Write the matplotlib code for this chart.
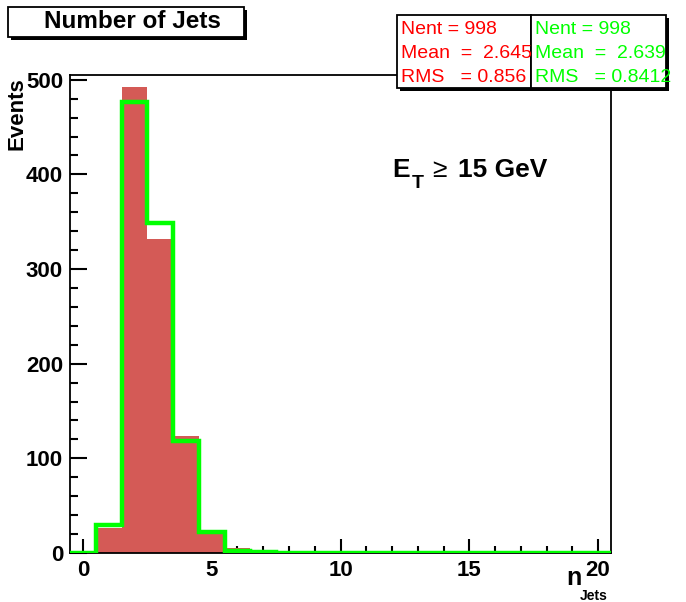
import numpy as np
import matplotlib.pyplot as plt
from matplotlib.patches import Rectangle
from matplotlib.ticker import MultipleLocator

plt.rcParams['font.family'] = ['Liberation Sans', 'DejaVu Sans']

# bin edges for nJets, 21 bins of width 1
edges = np.arange(-0.5, 21.0, 1.0)
red_counts = [0, 26, 492, 332, 124, 20, 5, 1] + [0] * 13
green_counts = [0, 30, 476, 349, 118, 22, 2, 1] + [0] * 13

red_stats = ['Nent = 998', 'Mean  =  2.645', 'RMS   = 0.856']
green_stats = ['Nent = 998', 'Mean  =  2.639', 'RMS   = 0.8412']

fig = plt.figure(figsize=(6.86, 6.02), dpi=100)
W, H = 686, 602
ax = fig.add_axes([70 / W, 1 - 553 / H, (611 - 70) / W, (553 - 75) / H])

ax.stairs(red_counts, edges, fill=True, color='#d45a56', zorder=2)
ax.stairs(green_counts, edges, color='#00ff00', linewidth=3.2, zorder=3)

ax.set_xlim(-0.5, 20.5)
ax.set_ylim(0, 505)
ax.xaxis.set_major_locator(MultipleLocator(5))
ax.xaxis.set_minor_locator(MultipleLocator(1))
ax.yaxis.set_major_locator(MultipleLocator(100))
ax.yaxis.set_minor_locator(MultipleLocator(20))
ax.tick_params(which='both', direction='in', top=False, right=False, width=1.5, color='black')
ax.tick_params(which='major', axis='x', length=10)
ax.tick_params(which='minor', axis='x', length=5)
ax.tick_params(which='major', axis='y', length=12)
ax.tick_params(which='minor', axis='y', length=6)
ax.tick_params(axis='both', labelsize=16, pad=5)
for lbl in ax.get_xticklabels() + ax.get_yticklabels():
    lbl.set_fontweight('bold')
for s in ax.spines.values():
    s.set_linewidth(1.3)

def px(x, y):
    return x / W, 1 - y / H

fig.text(*px(17, 114), 'Events', rotation=90, ha='center', va='center',
         fontsize=16, fontweight='bold')
fig.text(*px(566, 585), 'n', ha='left', va='baseline', fontsize=18, fontweight='bold')
fig.text(*px(580, 600), 'Jets', ha='left', va='baseline', fontsize=10, fontweight='bold')

# E_T >= 15 GeV label
fig.text(*px(392, 177), 'E', ha='left', va='baseline', fontsize=19, fontweight='bold')
fig.text(*px(412, 188), 'T', ha='left', va='baseline', fontsize=14, fontweight='bold')
fig.text(*px(432, 177), '\u2265', ha='left', va='baseline', fontsize=19)
fig.text(*px(458, 177), '15 GeV', ha='left', va='baseline', fontsize=19, fontweight='bold')

def box(x0, y0, x1, y1, sh=4):
    # ROOT-style pave with shadow, coords in pixels from top-left
    fig.patches.append(Rectangle(px(x0 + sh, y1 + sh), (x1 - x0) / W, (y1 - y0) / H,
                                 transform=fig.transFigure, facecolor='black',
                                 edgecolor='none', zorder=5))
    fig.patches.append(Rectangle(px(x0, y1), (x1 - x0) / W, (y1 - y0) / H,
                                 transform=fig.transFigure, facecolor='white',
                                 edgecolor='black', linewidth=1.3, zorder=6))

box(8, 7, 244, 37, sh=3)
fig.text(*px(132, 22), 'Number of Jets', ha='center', va='center',
         fontsize=17.5, fontweight='bold', zorder=10)

box(397, 15, 531, 88, sh=3)
box(531, 15, 666, 88, sh=3)
for i, (r, g) in enumerate(zip(red_stats, green_stats)):
    y = 1 - (29 + i * 24) / H
    fig.text(401 / W, y, r, color='red', fontsize=14, ha='left', va='center', zorder=10)
    fig.text(535 / W, y, g, color='#00ff00', fontsize=14, ha='left', va='center', zorder=11)

fig.savefig('out.png', dpi=100)
